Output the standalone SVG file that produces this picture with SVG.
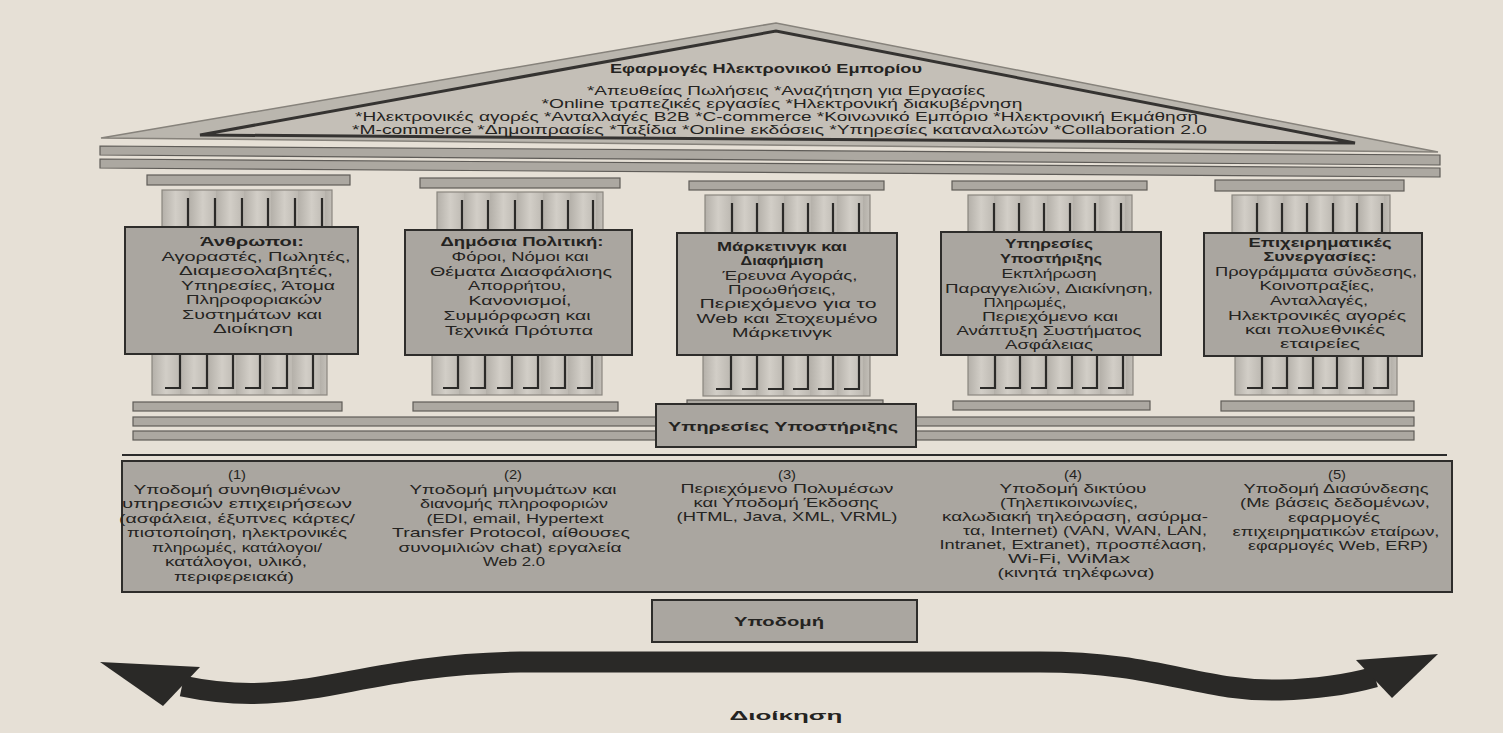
<svg xmlns="http://www.w3.org/2000/svg" width="1503" height="733" viewBox="0 0 1503 733">
<style>
.t{font-family:"Liberation Sans",Arial,sans-serif;font-size:13.5px;fill:#242321;text-anchor:middle}
.r{font-size:12px}
.b{font-weight:bold}
.band{fill:#aca8a1;stroke:#5f5c58;stroke-width:1.2}
.shaft{fill:url(#flute);stroke:#8a867f;stroke-width:1.2}
.box{fill:#aaa6a0;stroke:#2e2d2b;stroke-width:2}
.fl{stroke:#2b2a28;stroke-width:2.2;fill:none}
</style>
<defs>
<linearGradient id="flute" x1="0" y1="0" x2="0.16" y2="0" spreadMethod="repeat">
<stop offset="0" stop-color="#b4b0a9"/>
<stop offset="0.5" stop-color="#d2cec7"/>
<stop offset="1" stop-color="#bdb9b2"/>
</linearGradient>
</defs>
<rect x="0" y="0" width="1503" height="733" fill="#e6e0d6"/>

<g id="roof">
<polygon points="101,138 776,23 1438,152" fill="#bab6ae" stroke="#86827b" stroke-width="1.5"/>
<polygon points="200,135 776,31 1355,143" fill="#c4bfb7" stroke="#353331" stroke-width="3"/>
<text class="t b" x="766" y="73" font-size="13.5" textLength="312" lengthAdjust="spacingAndGlyphs">Εφαρμογές Ηλεκτρονικού Εμπορίου</text>
<text class="t r" x="786" y="95" textLength="398" lengthAdjust="spacingAndGlyphs">*Απευθείας Πωλήσεις *Αναζήτηση για Εργασίες</text>
<text class="t r" x="782" y="107.5" textLength="481" lengthAdjust="spacingAndGlyphs">*Online τραπεζικές εργασίες *Ηλεκτρονική διακυβέρνηση</text>
<text class="t r" x="776.5" y="121" textLength="843" lengthAdjust="spacingAndGlyphs">*Ηλεκτρονικές αγορές *Ανταλλαγές B2B *C-commerce *Κοινωνικό Εμπόριο *Ηλεκτρονική Εκμάθηση</text>
<text class="t r" x="779.5" y="133.5" textLength="855" lengthAdjust="spacingAndGlyphs">*M-commerce *Δημοιπρασίες *Ταξίδια *Online εκδόσεις *Υπηρεσίες καταναλωτών *Collaboration 2.0</text>
</g>

<g id="entablature">
<polygon class="band" points="100,146 1440,155 1440,165 100,155"/>
<polygon class="band" points="100,159 1440,168 1440,177 100,168"/>
</g>

<g id="stylobate">
<rect class="band" x="133" y="417" width="1281" height="9"/>
<rect class="band" x="133" y="431" width="1281" height="9"/>
</g>

<g id="pillar-people">
<rect class="band" x="147" y="175" width="203" height="10"/>
<rect class="shaft" x="162" y="190" width="170" height="38"/>
<path class="fl" d="M188 198V228M215 198V228M242 198V228M268 198V228M295 198V228M322 198V228"/>
<rect class="shaft" x="152" y="354" width="175" height="41"/>
<path class="fl" d="M180 354V388H165M207 354V388H192M233 354V388H218M260 354V388H245M287 354V388H272M313 354V388H298"/>
<rect class="band" x="133" y="402" width="209" height="9"/>
<rect class="box" x="125" y="227" width="233" height="127"/>
<text class="t b" x="252" y="246" textLength="104" lengthAdjust="spacingAndGlyphs">Άνθρωποι:</text>
<text class="t" x="256" y="260.7" textLength="189" lengthAdjust="spacingAndGlyphs">Αγοραστές, Πωλητές,</text>
<text class="t" x="256" y="275" textLength="154" lengthAdjust="spacingAndGlyphs">Διαμεσολαβητές,</text>
<text class="t" x="258" y="289.5" textLength="154" lengthAdjust="spacingAndGlyphs">Υπηρεσίες, Άτομα</text>
<text class="t" x="254" y="304" textLength="136" lengthAdjust="spacingAndGlyphs">Πληροφοριακών</text>
<text class="t" x="252" y="318.5" textLength="140" lengthAdjust="spacingAndGlyphs">Συστημάτων και</text>
<text class="t" x="253" y="333" textLength="80" lengthAdjust="spacingAndGlyphs">Διοίκηση</text>
</g>

<g id="pillar-policy">
<rect class="band" x="420" y="178" width="200" height="10"/>
<rect class="shaft" x="437" y="192" width="166" height="38"/>
<path class="fl" d="M462 200V230M488 200V230M515 200V230M542 200V230M568 200V230M593 200V230"/>
<rect class="shaft" x="432" y="355" width="170" height="40"/>
<path class="fl" d="M458 355V388H443M485 355V388H470M512 355V388H497M538 355V388H523M565 355V388H550M592 355V388H577"/>
<rect class="band" x="413" y="402" width="205" height="9"/>
<rect class="box" x="405" y="230" width="227" height="125"/>
<text class="t b" x="522" y="246" textLength="163" lengthAdjust="spacingAndGlyphs">Δημόσια Πολιτική:</text>
<text class="t" x="520" y="260.8" textLength="137" lengthAdjust="spacingAndGlyphs">Φόροι, Νόμοι και</text>
<text class="t" x="521" y="275.6" textLength="182" lengthAdjust="spacingAndGlyphs">Θέματα Διασφάλισης</text>
<text class="t" x="517" y="290.4" textLength="98" lengthAdjust="spacingAndGlyphs">Απορρήτου,</text>
<text class="t" x="520" y="305.2" textLength="103" lengthAdjust="spacingAndGlyphs">Κανονισμοί,</text>
<text class="t" x="517" y="320" textLength="147" lengthAdjust="spacingAndGlyphs">Συμμόρφωση και</text>
<text class="t" x="519" y="334.8" textLength="148" lengthAdjust="spacingAndGlyphs">Τεχνικά Πρότυπα</text>
</g>

<g id="pillar-marketing">
<rect class="band" x="689" y="181" width="195" height="9"/>
<rect class="shaft" x="705" y="195" width="165" height="38"/>
<path class="fl" d="M732 203V233M757 203V233M783 203V233M808 203V233M833 203V233M859 203V233"/>
<rect class="shaft" x="703" y="355" width="167" height="41"/>
<path class="fl" d="M731 355V389H716M757 355V389H742M783 355V389H768M808 355V389H793M833 355V389H818M859 355V389H844"/>
<rect class="band" x="687" y="400" width="196" height="9"/>
<rect class="box" x="677" y="233" width="220" height="122"/>
<text class="t b" x="782" y="251" textLength="130" lengthAdjust="spacingAndGlyphs">Μάρκετινγκ και</text>
<text class="t b" x="782" y="265" textLength="83" lengthAdjust="spacingAndGlyphs">Διαφήμιση</text>
<text class="t" x="790" y="279.5" textLength="135" lengthAdjust="spacingAndGlyphs">Έρευνα Αγοράς,</text>
<text class="t" x="782" y="294" textLength="108" lengthAdjust="spacingAndGlyphs">Προωθήσεις,</text>
<text class="t" x="788" y="308.3" textLength="177" lengthAdjust="spacingAndGlyphs">Περιεχόμενο για το</text>
<text class="t" x="787" y="322.7" textLength="181" lengthAdjust="spacingAndGlyphs">Web και Στοχευμένο</text>
<text class="t" x="782" y="336.7" textLength="100" lengthAdjust="spacingAndGlyphs">Μάρκετινγκ</text>
</g>

<g id="pillar-support">
<rect class="band" x="952" y="181" width="195" height="9"/>
<rect class="shaft" x="968" y="195" width="164" height="37"/>
<path class="fl" d="M994 203V232M1019 203V232M1044 203V232M1070 203V232M1095 203V232M1121 203V232"/>
<rect class="shaft" x="968" y="355" width="165" height="40"/>
<path class="fl" d="M995 355V388H980M1020 355V388H1005M1046 355V388H1031M1072 355V388H1057M1097 355V388H1082M1123 355V388H1108"/>
<rect class="band" x="953" y="401" width="197" height="9"/>
<rect class="box" x="941" y="232" width="220" height="123"/>
<text class="t b" x="1049" y="248" textLength="88" lengthAdjust="spacingAndGlyphs">Υπηρεσίες</text>
<text class="t b" x="1051" y="263" textLength="102" lengthAdjust="spacingAndGlyphs">Υποστήριξης</text>
<text class="t" x="1049" y="277.5" textLength="95" lengthAdjust="spacingAndGlyphs">Εκπλήρωση</text>
<text class="t" x="1049" y="292.5" textLength="208" lengthAdjust="spacingAndGlyphs">Παραγγελιών, Διακίνηση,</text>
<text class="t" x="1025" y="306.7" textLength="83" lengthAdjust="spacingAndGlyphs">Πληρωμές,</text>
<text class="t" x="1050" y="320.5" textLength="136" lengthAdjust="spacingAndGlyphs">Περιεχόμενο και</text>
<text class="t" x="1049" y="334.5" textLength="185" lengthAdjust="spacingAndGlyphs">Ανάπτυξη Συστήματος</text>
<text class="t" x="1049" y="348.5" textLength="88" lengthAdjust="spacingAndGlyphs">Ασφάλειας</text>
</g>

<g id="pillar-partnerships">
<rect class="band" x="1215" y="180" width="189" height="11"/>
<rect class="shaft" x="1232" y="195" width="158" height="38"/>
<path class="fl" d="M1257 203V233M1282 203V233M1307 203V233M1333 203V233M1357 203V233M1382 203V233"/>
<rect class="shaft" x="1235" y="356" width="162" height="39"/>
<path class="fl" d="M1262 356V388H1247M1287 356V388H1272M1313 356V388H1298M1337 356V388H1322M1363 356V388H1348M1388 356V388H1373"/>
<rect class="band" x="1221" y="401" width="193" height="10"/>
<rect class="box" x="1204" y="233" width="218" height="123"/>
<text class="t b" x="1320" y="246.5" textLength="143" lengthAdjust="spacingAndGlyphs">Επιχειρηματικές</text>
<text class="t b" x="1320" y="261" textLength="113" lengthAdjust="spacingAndGlyphs">Συνεργασίες:</text>
<text class="t" x="1316" y="275.8" textLength="202" lengthAdjust="spacingAndGlyphs">Προγράμματα σύνδεσης,</text>
<text class="t" x="1317" y="290.3" textLength="115" lengthAdjust="spacingAndGlyphs">Κοινοπραξίες,</text>
<text class="t" x="1319" y="304.8" textLength="98" lengthAdjust="spacingAndGlyphs">Ανταλλαγές,</text>
<text class="t" x="1317" y="319.5" textLength="178" lengthAdjust="spacingAndGlyphs">Ηλεκτρονικές αγορές</text>
<text class="t" x="1315" y="334" textLength="140" lengthAdjust="spacingAndGlyphs">και πολυεθνικές</text>
<text class="t" x="1320" y="348" textLength="80" lengthAdjust="spacingAndGlyphs">εταιρείες</text>
</g>

<g id="support-services">
<rect class="box" x="656" y="404" width="260" height="43"/>
<text class="t b" x="783" y="431" font-size="14.5" textLength="230" lengthAdjust="spacingAndGlyphs">Υπηρεσίες Υποστήριξης</text>
</g>

<g id="infrastructure">
<path d="M122 455H1447" stroke="#2b2b2b" stroke-width="2"/>
<rect class="box" x="122" y="461" width="1330" height="131"/>
<g id="infra-1">
<text class="t" x="237" y="479" textLength="18" lengthAdjust="spacingAndGlyphs">(1)</text>
<text class="t" x="237" y="493.5" textLength="207" lengthAdjust="spacingAndGlyphs">Υποδομή συνηθισμένων</text>
<text class="t" x="237" y="508" textLength="230" lengthAdjust="spacingAndGlyphs">υπηρεσιών επιχειρήσεων</text>
<text class="t" x="237" y="522.5" textLength="236" lengthAdjust="spacingAndGlyphs">(ασφάλεια, έξυπνες κάρτες/</text>
<text class="t" x="237" y="537" textLength="220" lengthAdjust="spacingAndGlyphs">πιστοποίηση, ηλεκτρονικές</text>
<text class="t" x="237" y="551.5" textLength="170" lengthAdjust="spacingAndGlyphs">πληρωμές, κατάλογοι/</text>
<text class="t" x="236" y="566" textLength="142" lengthAdjust="spacingAndGlyphs">κατάλογοι, υλικό,</text>
<text class="t" x="234" y="580.5" textLength="120" lengthAdjust="spacingAndGlyphs">περιφερειακά)</text>
</g>
<g id="infra-2">
<text class="t" x="513" y="479" textLength="18" lengthAdjust="spacingAndGlyphs">(2)</text>
<text class="t" x="513" y="493.5" textLength="207" lengthAdjust="spacingAndGlyphs">Υποδομή μηνυμάτων και</text>
<text class="t" x="514" y="508" textLength="188" lengthAdjust="spacingAndGlyphs">διανομής πληροφοριών</text>
<text class="t" x="515" y="522.5" textLength="177" lengthAdjust="spacingAndGlyphs">(EDI, email, Hypertext</text>
<text class="t" x="511" y="537" textLength="238" lengthAdjust="spacingAndGlyphs">Transfer Protocol, αίθουσες</text>
<text class="t" x="510" y="551.5" textLength="223" lengthAdjust="spacingAndGlyphs">συνομιλιών chat) εργαλεία</text>
<text class="t" x="514" y="565.5" textLength="62" lengthAdjust="spacingAndGlyphs">Web 2.0</text>
</g>
<g id="infra-3">
<text class="t" x="787" y="478.5" textLength="18" lengthAdjust="spacingAndGlyphs">(3)</text>
<text class="t" x="787" y="493" textLength="213" lengthAdjust="spacingAndGlyphs">Περιεχόμενο Πολυμέσων</text>
<text class="t" x="786" y="507" textLength="185" lengthAdjust="spacingAndGlyphs">και Υποδομή Έκδοσης</text>
<text class="t" x="787" y="521" textLength="221" lengthAdjust="spacingAndGlyphs">(HTML, Java, XML, VRML)</text>
</g>
<g id="infra-4">
<text class="t" x="1073" y="478.5" textLength="18" lengthAdjust="spacingAndGlyphs">(4)</text>
<text class="t" x="1073" y="492.5" textLength="147" lengthAdjust="spacingAndGlyphs">Υποδομή δικτύου</text>
<text class="t" x="1069" y="506.5" textLength="138" lengthAdjust="spacingAndGlyphs">(Τηλεπικοινωνίες,</text>
<text class="t" x="1075" y="520.5" textLength="266" lengthAdjust="spacingAndGlyphs">καλωδιακή τηλεόραση, ασύρμα-</text>
<text class="t" x="1085" y="534.5" textLength="244" lengthAdjust="spacingAndGlyphs">τα, Internet) (VAN, WAN, LAN,</text>
<text class="t" x="1073" y="548.5" textLength="267" lengthAdjust="spacingAndGlyphs">Intranet, Extranet), προσπέλαση,</text>
<text class="t" x="1069" y="562.5" textLength="122" lengthAdjust="spacingAndGlyphs">Wi-Fi, WiMax</text>
<text class="t" x="1076" y="577" textLength="157" lengthAdjust="spacingAndGlyphs">(κινητά τηλέφωνα)</text>
</g>
<g id="infra-5">
<text class="t" x="1337" y="478.5" textLength="18" lengthAdjust="spacingAndGlyphs">(5)</text>
<text class="t" x="1336" y="493" textLength="185" lengthAdjust="spacingAndGlyphs">Υποδομή Διασύνδεσης</text>
<text class="t" x="1335" y="507" textLength="190" lengthAdjust="spacingAndGlyphs">(Με βάσεις δεδομένων,</text>
<text class="t" x="1334" y="521.5" textLength="92" lengthAdjust="spacingAndGlyphs">εφαρμογές</text>
<text class="t" x="1336" y="536" textLength="207" lengthAdjust="spacingAndGlyphs">επιχειρηματικών εταίρων,</text>
<text class="t" x="1338" y="550" textLength="180" lengthAdjust="spacingAndGlyphs">εφαρμογές Web, ERP)</text>
</g>
</g>

<g id="infrastructure-label">
<rect class="box" x="652" y="600" width="265" height="42"/>
<text class="t b" x="779" y="626" font-size="14" textLength="90" lengthAdjust="spacingAndGlyphs">Υποδομή</text>
</g>

<g id="connectors">
<path d="M182,686 C220,694 250,695 280,692 C340,688 400,664 520,662 L1040,662 C1160,662 1200,692 1280,690 C1320,689 1350,684 1375,677" fill="none" stroke="#2a2927" stroke-width="21"/>
<polygon points="100,662 200,667 163,706" fill="#2a2927"/>
<polygon points="1438,654 1356,660 1392,698" fill="#2a2927"/>
</g>

<g id="management-label">
<text class="t b" x="786" y="720" font-size="16" textLength="113" lengthAdjust="spacingAndGlyphs">Διοίκηση</text>
</g>
</svg>
